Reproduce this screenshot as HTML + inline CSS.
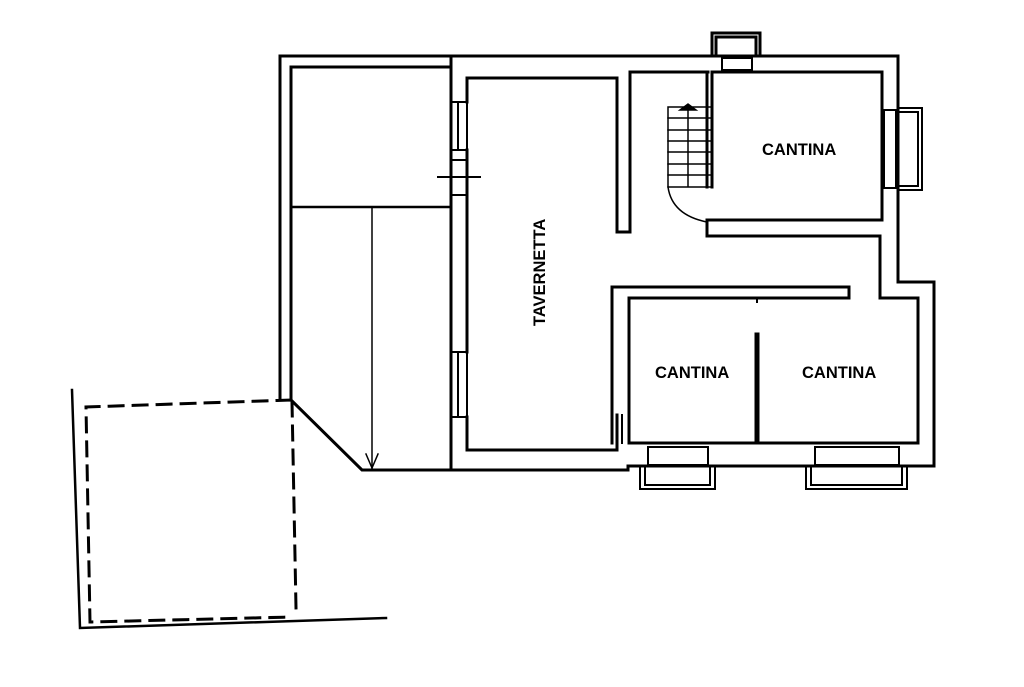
<!DOCTYPE html>
<html><head><style>
html,body{margin:0;padding:0;background:#fff;}
svg{display:block}
text{font-family:"Liberation Sans",sans-serif;font-weight:bold;font-size:16.5px;fill:#000}
</style></head><body>
<svg width="1024" height="687" viewBox="0 0 1024 687" xmlns="http://www.w3.org/2000/svg">
<g fill="none" stroke="#000" stroke-width="3" stroke-linecap="square">
<path d="M280 56 H898 V282 H934 V466 H628 V470 H362 L291 400 V67 H451"/>
<path d="M280 56 V400"/>
<path d="M451 56 V470"/>
<path d="M712 56 V33 H760 V56 M716 56 V37 H756 V56"/>
<rect x="722" y="58" width="30" height="12" stroke-width="2"/>
<path d="M467 102 V78 H617 V232 H630 V72 H708"/>
<path d="M467 150 V352"/>
<path d="M467 417 V450 H617 V415"/>
<rect x="451" y="102" width="16" height="48" stroke-width="2"/>
<rect x="451" y="352" width="16" height="65" stroke-width="2"/>
<path d="M458 104 V148 M458 354 V415" stroke-width="2"/>
<path d="M438 177 H480" stroke-width="2"/>
<path d="M451 160 H467 M451 195 H467" stroke-width="2"/>
<path d="M291 207 H451" stroke-width="2.5"/>
<path d="M372 207 V468" stroke-width="1.5"/>
<path d="M366 454 L372 468 L378 454" stroke-width="1.5"/>
<path d="M707 72 V187 M712 72 V187"/>
<path d="M712 72 H882 V220 H707 V236 H880 V297"/>
<rect x="884" y="110" width="12" height="78" stroke-width="2"/>
<path d="M898 108 H922 V190 H898 M898 112 H918 V186 H898" stroke-width="2"/>
<g stroke-width="1.5">
<path d="M668 107 H712 M668 107 V187 H712 M688 107 V187"/>
<path d="M668 118 H712 M668 130 H712 M668 141 H712 M668 152 H712 M668 164 H712 M668 175 H712"/>
<path d="M668 187 Q672 215 707 222"/>
<path d="M680 110 L688 104 L696 110 Z" fill="#000"/>
</g>
<path d="M612 287 H849 V298 H629 V443 H918 V298 H880"/>
<path d="M612 287 V443"/>
<path d="M622 415 V443" stroke-width="2"/>
<rect x="755" y="333" width="4" height="110" fill="#000" stroke-width="1"/>
<path d="M757 298 V302" stroke-width="2"/>
<rect x="648" y="447" width="60" height="18" stroke-width="2"/>
<path d="M640 466 V489 H715 V466 M645 466 V485 H710 V466" stroke-width="2"/>
<rect x="815" y="447" width="84" height="18" stroke-width="2"/>
<path d="M806 466 V489 H907 V466 M811 466 V485 H902 V466" stroke-width="2"/>
<path d="M72 390 L80 628 L386 618" stroke-width="2.5"/>
<path d="M291 400 L86 407 L90 622 L292 617 M292 402 L296 608" stroke-dasharray="14 10" stroke-width="3"/>
</g>
<text x="762" y="155">CANTINA</text>
<text x="655" y="378">CANTINA</text>
<text x="802" y="378">CANTINA</text>
<text transform="translate(545 326) rotate(-90)">TAVERNETTA</text>
</svg>
</body></html>
